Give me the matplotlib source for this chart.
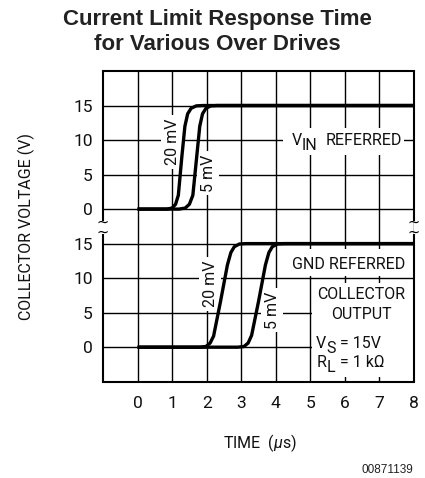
import matplotlib
matplotlib.use('Agg')
import matplotlib.pyplot as plt
from matplotlib.patches import Rectangle

plt.rcParams['font.family'] = ['Roboto', 'DejaVu Sans']
plt.rcParams['mathtext.fontset'] = 'custom'
plt.rcParams['mathtext.rm'] = 'Roboto'
plt.rcParams['mathtext.it'] = 'Roboto:italic'

# time in us, collector voltage in V
vin_20mv_t = [0, 0.85, 1.0, 1.1, 1.18, 1.28, 1.37, 1.45, 1.55, 1.7, 1.9, 8]
vin_20mv_v = [0, 0, 0.15, 0.7, 2.0, 7.5, 12.0, 13.8, 14.6, 14.95, 15, 15]
vin_5mv_t = [0, 1.2, 1.38, 1.5, 1.6, 1.7, 1.8, 1.88, 1.98, 2.12, 2.3, 8]
vin_5mv_v = [0, 0, 0.15, 0.7, 2.0, 7.0, 12.0, 13.8, 14.6, 14.95, 15, 15]

gnd_20mv_t = [0, 1.8, 1.98, 2.1, 2.2, 2.4, 2.6, 2.7, 2.8, 2.95, 3.15, 8]
gnd_20mv_v = [0, 0, 0.1, 0.6, 1.6, 6.6, 11.9, 13.7, 14.55, 14.95, 15, 15]
gnd_5mv_t = [0, 2.9, 3.08, 3.2, 3.3, 3.5, 3.7, 3.8, 3.9, 4.05, 4.25, 8]
gnd_5mv_v = [0, 0, 0.1, 0.6, 1.7, 6.6, 11.9, 13.7, 14.55, 14.95, 15, 15]

x_ticks = [0, 1, 2, 3, 4, 5, 6, 7, 8]
volt_ticks = [0, 5, 10, 15]
top_offset = 20   # upper panel (VIN referred) is stacked above the lower one

fig = plt.figure(figsize=(4.25, 4.78), dpi=100)
ax = fig.add_axes([103 / 425, 1 - 381.7 / 478, 311 / 425, 310.7 / 478])
ax.set_xlim(-1, 8)
ax.set_ylim(-5, 40)

ax.set_xticks(x_ticks)
ax.set_xticklabels([str(t) for t in x_ticks])
ax.set_yticks(volt_ticks + [v + top_offset for v in volt_ticks])
ax.set_yticklabels([str(v) for v in volt_ticks] * 2)
ax.tick_params(length=0, labelsize=12.5, colors='#111111')
ax.tick_params(axis='x', pad=10.5)
ax.tick_params(axis='y', pad=7.5)
ax.grid(True, color='black', lw=1.0)
ax.set_axisbelow(True)

for side in ['left', 'right']:
  ax.spines[side].set_visible(False)
for side in ['top', 'bottom']:
  ax.spines[side].set_linewidth(1.5)

# broken side frame with break marks
brk_lo, brk_hi = 16.4, 18.3
for xe in [-1, 8]:
  ax.vlines(xe, -5, brk_lo, color='black', lw=1.5, clip_on=False, zorder=5)
  ax.vlines(xe, brk_hi, 40, color='black', lw=1.5, clip_on=False, zorder=5)
  ax.text(xe, 17.35, '~\n~', ha='center', va='center', fontsize=10.5, linespacing=0.6,
          family='DejaVu Sans', clip_on=False, zorder=5)

# white areas behind the annotations
ax.add_patch(Rectangle((4.22, 27.8), 3.5, 3.95, fc='white', ec='none', zorder=1))
ax.add_patch(Rectangle((4.25, 10.3), 3.72, 3.9, fc='white', ec='none', zorder=1))
ax.add_patch(Rectangle((5.04, -4.3), 2.93, 13.6, fc='white', ec='none', zorder=1))

lw = 2.4
ax.plot(vin_20mv_t, [v + top_offset for v in vin_20mv_v], color='black', lw=lw,
        solid_joinstyle='round', solid_capstyle='butt', zorder=4)
ax.plot(vin_5mv_t, [v + top_offset for v in vin_5mv_v], color='black', lw=lw,
        solid_joinstyle='round', solid_capstyle='butt', zorder=4)
ax.plot(gnd_20mv_t, gnd_20mv_v, color='black', lw=lw,
        solid_joinstyle='round', solid_capstyle='butt', zorder=4)
ax.plot(gnd_5mv_t, gnd_5mv_v, color='black', lw=lw,
        solid_joinstyle='round', solid_capstyle='butt', zorder=4)

lbl_box = dict(fc='white', ec='none', pad=2.5)
txt_kw = dict(fontsize=11.5, color='#111111', zorder=3)
ax.text(1.0, 29.7, '20 mV', rotation=90, ha='center', va='center', bbox=lbl_box, **txt_kw)
ax.text(2.05, 25.2, '5 mV', rotation=90, ha='center', va='center', bbox=lbl_box, **txt_kw)
ax.text(2.1, 9.15, '20 mV', rotation=90, ha='center', va='center', bbox=lbl_box, **txt_kw)
ax.text(3.9, 5.4, '5 mV', rotation=90, ha='center', va='center', bbox=lbl_box, **txt_kw)

# full size, lowered subscripts as in the original
ax.text(4.47, 29.28, 'V', ha='left', va='baseline', **txt_kw)
ax.text(4.76, 28.56, 'IN', ha='left', va='baseline', **txt_kw)
ax.text(5.43, 29.28, 'REFERRED', ha='left', va='baseline', **txt_kw)
ax.text(6.1, 11.28, 'GND REFERRED', ha='center', va='baseline', **txt_kw)
ax.text(6.47, 6.93, 'COLLECTOR', ha='center', va='baseline', **txt_kw)
ax.text(6.47, 4.04, 'OUTPUT', ha='center', va='baseline', **txt_kw)
ax.text(5.17, -0.16, 'V', ha='left', va='baseline', **txt_kw)
ax.text(5.46, -0.89, 'S', ha='left', va='baseline', **txt_kw)
ax.text(5.87, -0.16, '= 15V', ha='left', va='baseline', **txt_kw)
ax.text(5.17, -2.83, 'R', ha='left', va='baseline', **txt_kw)
ax.text(5.46, -3.55, 'L', ha='left', va='baseline', **txt_kw)
ax.text(5.87, -2.83, '= 1 kΩ', ha='left', va='baseline', **txt_kw)

title_kw = dict(ha='center', va='baseline', fontsize=16, fontweight='bold',
                family=['Liberation Sans', 'DejaVu Sans'], color='#222222')
fig.text(217 / 425, 1 - 25 / 478, 'Current Limit Response Time', **title_kw)
fig.text(217 / 425, 1 - 50 / 478, 'for Various Over Drives', **title_kw)

fig.text(26.7 / 425, 1 - 226.5 / 478, 'COLLECTOR VOLTAGE (V)', rotation=90,
         ha='center', va='center', fontsize=11.5, color='#111111')
fig.text(260 / 425, 1 - 443 / 478, r'TIME  ($\mu$s)', ha='center', va='center',
         fontsize=11.5, color='#111111')
fig.text(413 / 425, 1 - 470 / 478, '00871139', ha='right', va='center', fontsize=8.5,
         family=['Liberation Sans', 'DejaVu Sans'], color='#222222')

fig.savefig('out.png', dpi=100)
